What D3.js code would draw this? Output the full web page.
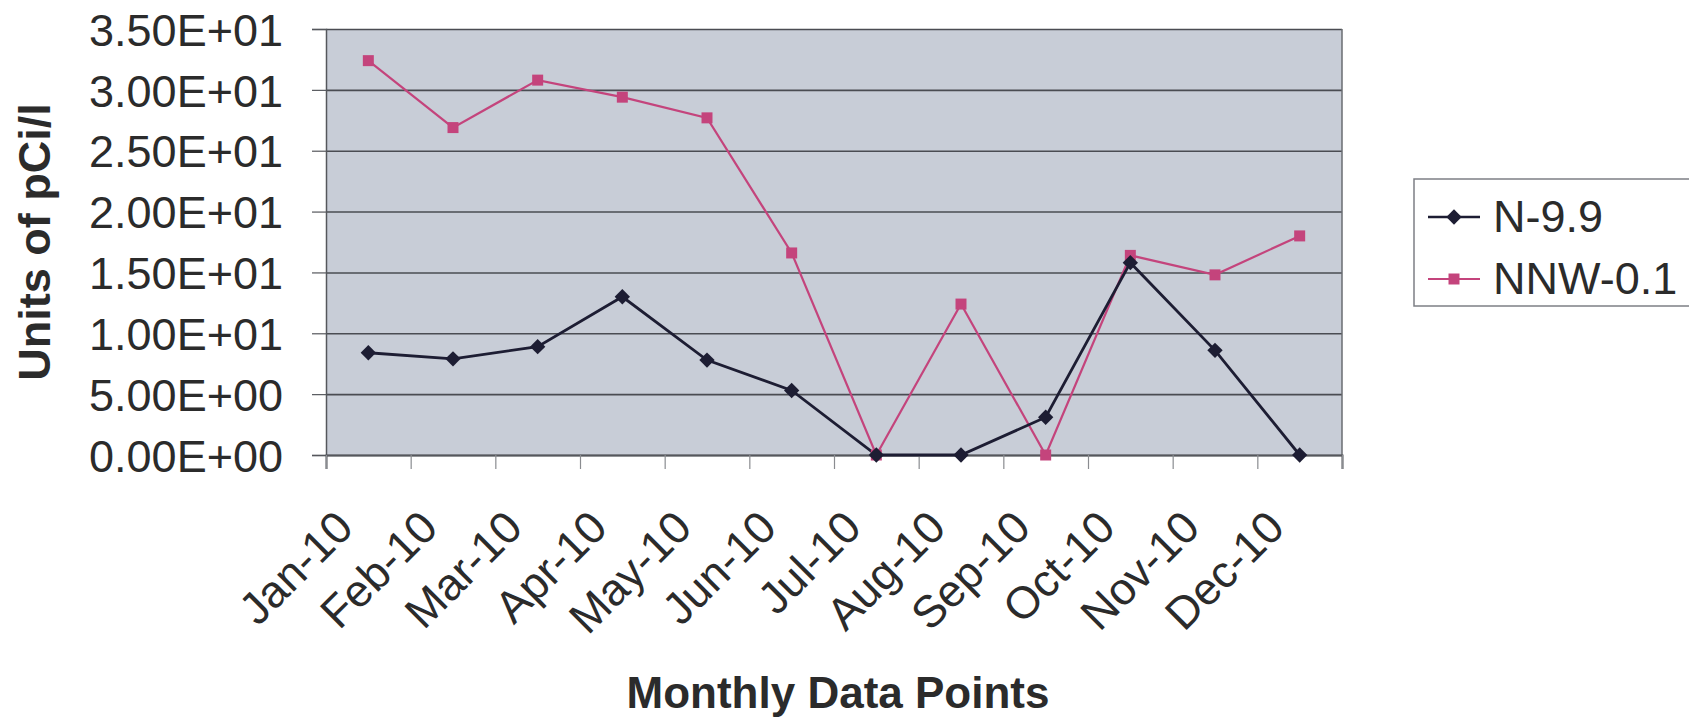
<!DOCTYPE html>
<html>
<head>
<meta charset="utf-8">
<script src="https://cdn.jsdelivr.net/npm/d3@7"></script>
<style>
  html, body { margin: 0; padding: 0; background: #ffffff; }
  svg { display: block; }
  text { font-family: "Liberation Sans", Arial, sans-serif; fill: #2b2b2b; }
</style>
</head>
<body>
<svg id="chart" width="1689" height="720"></svg>
<script>
const categories = ["Jan-10","Feb-10","Mar-10","Apr-10","May-10","Jun-10","Jul-10","Aug-10","Sep-10","Oct-10","Nov-10","Dec-10"];
const seriesNames = ["N-9.9", "NNW-0.1"];
const valuesN = [8.4, 7.9, 8.9, 13.0, 7.8, 5.3, 0, 0, 3.1, 15.8, 8.6, 0];
const valuesNNW = [32.4, 26.9, 30.8, 29.4, 27.7, 16.6, 0, 12.4, 0, 16.4, 14.8, 18.0];
const yTicks = [0, 5, 10, 15, 20, 25, 30, 35];
const yTickLabels = ["0.00E+00","5.00E+00","1.00E+01","1.50E+01","2.00E+01","2.50E+01","3.00E+01","3.50E+01"];
const yTitle = "Units of pCi/l";
const xTitle = "Monthly Data Points";

const colorN = "#1d1d33";
const colorNNW = "#c4447c";

const plot = { left: 326, right: 1342, top: 29, bottom: 455 };
const svg = d3.select("#chart");

const x = d3.scaleBand().domain(categories).range([plot.left, plot.right]).padding(0);
const xEdge = d3.scaleLinear().domain([0, categories.length]).range([plot.left, plot.right]);
const y = d3.scaleLinear().domain([0, 35]).range([plot.bottom, plot.top]);

// plot background
svg.append("rect")
  .attr("x", plot.left).attr("y", plot.top)
  .attr("width", plot.right - plot.left).attr("height", plot.bottom - plot.top)
  .attr("fill", "#c8cdd7");

// gridlines
const grid = svg.append("g").attr("transform", `translate(${plot.left},0)`)
  .call(d3.axisLeft(y).tickValues(yTicks).tickSize(-(plot.right - plot.left)).tickFormat(""));
grid.select(".domain").remove();
grid.selectAll("line").attr("stroke", "#4a4c52").attr("stroke-width", 1.6);

// right border
svg.append("line")
  .attr("x1", plot.right).attr("x2", plot.right)
  .attr("y1", plot.top).attr("y2", plot.bottom)
  .attr("stroke", "#6a6c72").attr("stroke-width", 1.5);

// y axis
const yAxis = svg.append("g").attr("transform", `translate(${plot.left},0)`)
  .call(d3.axisLeft(y).tickValues(yTicks).tickSize(14).tickPadding(29).tickFormat((d, i) => yTickLabels[i]));
yAxis.select(".domain").attr("stroke", "#55575c").attr("stroke-width", 1.5);
yAxis.selectAll(".tick line").attr("stroke", "#55575c").attr("stroke-width", 1.2);
yAxis.selectAll(".tick text")
  .attr("font-family", "'Liberation Sans', Arial, sans-serif")
  .attr("font-size", 45).attr("fill", "#2b2b2b").attr("dy", "0.36em");

// x axis ticks at category boundaries
const xAxis = svg.append("g").attr("transform", `translate(0,${plot.bottom})`)
  .call(d3.axisBottom(xEdge).tickValues(d3.range(categories.length + 1)).tickSize(14).tickFormat(""));
xAxis.select(".domain").attr("stroke", "#55575c").attr("stroke-width", 2);
xAxis.selectAll(".tick line").attr("stroke", "#8a8c90").attr("stroke-width", 1.2);

// x labels rotated
svg.append("g").selectAll("text").data(categories).join("text")
  .attr("transform", d => `translate(${x(d) + x.bandwidth() / 2 - 13},530) rotate(-45)`)
  .attr("text-anchor", "end")
  .attr("font-size", 45)
  .text(d => d);

// axis titles
svg.append("text")
  .attr("transform", `translate(50,${(plot.top + plot.bottom) / 2}) rotate(-90)`)
  .attr("text-anchor", "middle")
  .attr("font-size", 45).attr("font-weight", "bold")
  .text(yTitle);

svg.append("text")
  .attr("x", 838).attr("y", 708)
  .attr("text-anchor", "middle")
  .attr("font-size", 44).attr("font-weight", "bold")
  .text(xTitle);

// lines
const line = d3.line().x((d, i) => x(categories[i]) + x.bandwidth() / 2).y(d => y(d));

svg.append("path").datum(valuesNNW)
  .attr("d", line).attr("fill", "none")
  .attr("stroke", colorNNW).attr("stroke-width", 2.2);
svg.append("path").datum(valuesN)
  .attr("d", line).attr("fill", "none")
  .attr("stroke", colorN).attr("stroke-width", 2.8);

// markers
const diamond = d3.symbol().type(d3.symbolDiamond2).size(150);
const square = d3.symbol().type(d3.symbolSquare).size(121);

svg.append("g").selectAll("path").data(valuesNNW).join("path")
  .attr("transform", (d, i) => `translate(${x(categories[i]) + x.bandwidth() / 2},${y(d)})`)
  .attr("d", square).attr("fill", colorNNW);
svg.append("g").selectAll("path").data(valuesN).join("path")
  .attr("transform", (d, i) => `translate(${x(categories[i]) + x.bandwidth() / 2},${y(d)})`)
  .attr("d", diamond).attr("fill", colorN);

// legend
const legend = svg.append("g");
legend.append("rect")
  .attr("x", 1414).attr("y", 179).attr("width", 300).attr("height", 127)
  .attr("fill", "#ffffff").attr("stroke", "#7d7f85").attr("stroke-width", 1.5);
const legendItems = [
  { name: seriesNames[0], color: colorN, sym: diamond, sw: 2.5 },
  { name: seriesNames[1], color: colorNNW, sym: square, sw: 2 }
];
legendItems.forEach((it, i) => {
  const ly = 217 + i * 62;
  legend.append("line").attr("x1", 1428).attr("x2", 1480).attr("y1", ly).attr("y2", ly)
    .attr("stroke", it.color).attr("stroke-width", it.sw);
  legend.append("path").attr("transform", `translate(1454,${ly})`).attr("d", it.sym).attr("fill", it.color);
  legend.append("text").attr("x", 1493).attr("y", ly + 15)
    .attr("font-size", 45).text(it.name);
});
</script>
</body>
</html>
